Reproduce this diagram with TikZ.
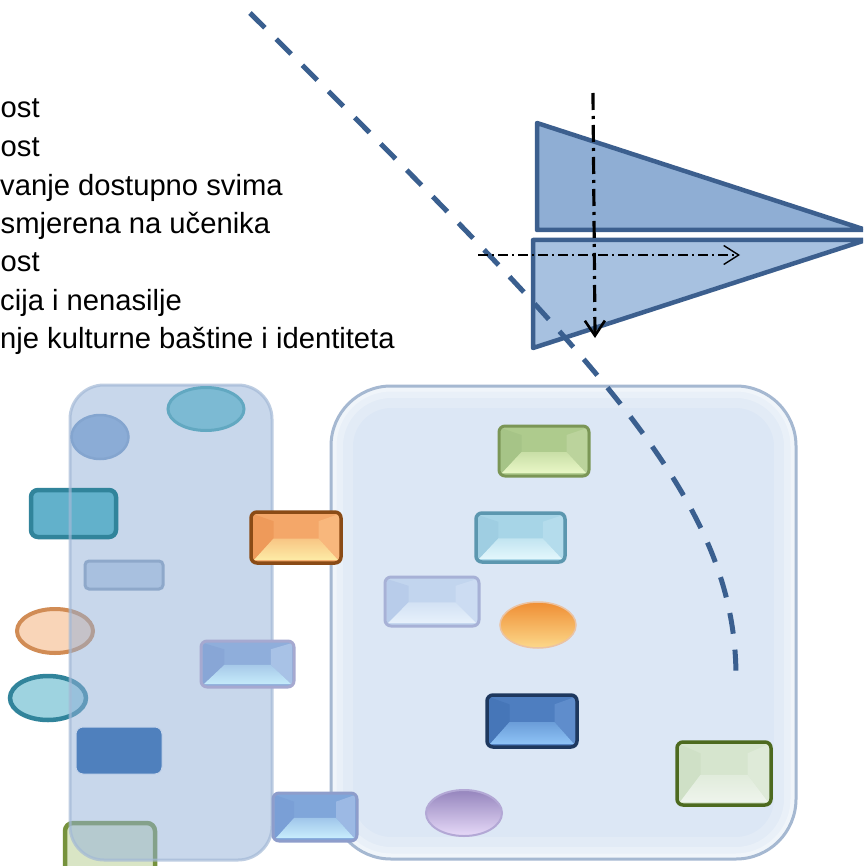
\documentclass[tikz,border=0pt]{standalone}
\usepackage{fontspec}
\setmainfont{Liberation Sans}
\usetikzlibrary{arrows.meta}
\definecolor{dashblue}{HTML}{3A5F8F}
\definecolor{triedge}{HTML}{3C5F8E}
\definecolor{triup}{HTML}{8FAED4}
\definecolor{trilow}{HTML}{A7C1E0}
\definecolor{tallfill}{HTML}{93B1D9}
\definecolor{talledge}{HTML}{A3B9D6}
\definecolor{bigfill}{HTML}{DCE7F5}
\definecolor{bigedge}{HTML}{A5B8D1}
\definecolor{tealfill}{HTML}{62B1CB}
\definecolor{tealedge}{HTML}{31849B}
\definecolor{peachfill}{HTML}{F9D5B8}
\definecolor{peachedge}{HTML}{D18C55}
\definecolor{aquafill}{HTML}{9ED3E0}
\definecolor{leaffill}{HTML}{D9E5C5}
\definecolor{leafedge}{HTML}{76923C}
\definecolor{topellfill}{HTML}{7CBAD3}
\definecolor{topelledge}{HTML}{62A8C1}
\definecolor{blueellfill}{HTML}{8BACD6}
\definecolor{blueelledge}{HTML}{84A5CF}
\definecolor{smallfill}{HTML}{A8C0DF}
\definecolor{smalledge}{HTML}{8EA8CA}
\definecolor{solidfill}{HTML}{4F80BD}
\definecolor{solidedge}{HTML}{C3D3EA}
\definecolor{orellA}{HTML}{EF8E34}
\definecolor{orellB}{HTML}{FCD88A}
\definecolor{orelledge}{HTML}{EBC3A3}
\definecolor{puellA}{HTML}{9585BD}
\definecolor{puellB}{HTML}{E6D9F8}
\definecolor{puelledge}{HTML}{B3A8D5}
% bevel colours: D border, A main, L left, R right, B light
\definecolor{orD}{HTML}{8A4B16}\definecolor{orA}{HTML}{F4A769}\definecolor{orL}{HTML}{EE9A5A}\definecolor{orR}{HTML}{F8B77C}\definecolor{orB}{HTML}{FDEBA6}
\definecolor{muD}{HTML}{A6A9D0}\definecolor{muA}{HTML}{8FAEDB}\definecolor{muL}{HTML}{88A6D6}\definecolor{muR}{HTML}{A8C2E6}\definecolor{muB}{HTML}{C5EBFA}
\definecolor{smD}{HTML}{8E9DCB}\definecolor{smA}{HTML}{80A6DA}\definecolor{smL}{HTML}{7A9FD6}\definecolor{smR}{HTML}{9CB9E4}\definecolor{smB}{HTML}{C8EDFD}
\definecolor{grD}{HTML}{7B9656}\definecolor{grA}{HTML}{AECB8D}\definecolor{grL}{HTML}{A6C487}\definecolor{grR}{HTML}{BBD39C}\definecolor{grB}{HTML}{E9F7C6}
\definecolor{lbD}{HTML}{5C97AF}\definecolor{lbA}{HTML}{A7D5E7}\definecolor{lbL}{HTML}{9FCEE2}\definecolor{lbR}{HTML}{B4DCEC}\definecolor{lbB}{HTML}{E3F7FC}
\definecolor{paD}{HTML}{A7B1D6}\definecolor{paA}{HTML}{C2D5EE}\definecolor{paL}{HTML}{B8CCEA}\definecolor{paR}{HTML}{CCDCF2}\definecolor{paB}{HTML}{E7F1FB}
\definecolor{dbD}{HTML}{1E385E}\definecolor{dbA}{HTML}{4E7EC0}\definecolor{dbL}{HTML}{4676B8}\definecolor{dbR}{HTML}{5F8DCC}\definecolor{dbB}{HTML}{8EC3F6}
\definecolor{lgD}{HTML}{4D6A1F}\definecolor{lgA}{HTML}{D6E5CE}\definecolor{lgL}{HTML}{CFE0C6}\definecolor{lgR}{HTML}{DEEAD8}\definecolor{lgB}{HTML}{EEF4EC}
\newcommand\bevelbox[6]{% x0 y0 x1 y1 prefix linewidth
  \fill[#5A,rounded corners=5pt] (#1,#2) rectangle (#3,#4);
  \fill[#5L] ({#1+2},{#2+2}) -- ({#1+0.25*(#3-#1)},{#2+0.18*(#4-#2)}) -- ({#1+0.25*(#3-#1)},{#2+0.52*(#4-#2)}) -- ({#1+2},{#4-2}) -- cycle;
  \fill[#5R] ({#3-2},{#2+2}) -- ({#3-0.25*(#3-#1)},{#2+0.18*(#4-#2)}) -- ({#3-0.25*(#3-#1)},{#2+0.52*(#4-#2)}) -- ({#3-2},{#4-2}) -- cycle;
  \shade[top color=#5A!55!#5B, bottom color=#5B] ({#1+0.25*(#3-#1)},{#2+0.52*(#4-#2)}) -- ({#3-0.25*(#3-#1)},{#2+0.52*(#4-#2)}) -- ({#3-3},{#4-3}) -- ({#1+3},{#4-3}) -- cycle;
  \draw[#5D,line width=#6,rounded corners=6pt] (#1,#2) rectangle (#3,#4);
}
\tikzset{
  listtext/.style={anchor=base west,inner sep=0pt,font=\fontsize{29.2}{34}\selectfont},
  bigdash/.style={dashblue,line width=5pt,dash pattern=on 21pt off 16pt},
  triangle/.style={triedge,line width=4.5pt,line join=round},
  vaxis/.style={black,line width=3.2pt,dash pattern=on 17pt off 6pt on 3pt off 6pt,-{Straight Barb[length=15pt,width=20pt,line width=2.6pt]}},
  haxis/.style={black,line width=1.4pt,dash pattern=on 10pt off 4pt on 2pt off 4pt,-{Straight Barb[length=15pt,width=19pt,line width=1.4pt]}},
}
\begin{document}
\begin{tikzpicture}[x=1pt,y=-1pt]
\useasboundingbox (0,0) rectangle (863,866);
\clip (0,0) rectangle (863,866);
\fill[white] (0,0) rectangle (863,866);
% list text
\node[listtext] (t1) at (0.5,118) {ost};
\node[listtext] (t2) at (0.5,157) {ost};
\node[listtext] (t3) at (0,195.5) {vanje dostupno svima};
\node[listtext] (t4) at (0.5,233.5) {smjerena na učenika};
\node[listtext] (t5) at (0.5,272) {ost};
\node[listtext] (t6) at (0,310) {cija i nenasilje};
\node[listtext] (t7) at (0,348.5) {nje kulturne baštine i identiteta};
% triangles
\filldraw[triangle,fill=triup] (537,123) -- (866,230) -- (537,230) -- cycle;
\filldraw[triangle,fill=trilow] (533,240) -- (866,240) -- (533,348) -- cycle;
% items sticking out of tall box (under it)
\filldraw[fill=peachfill,draw=peachedge,line width=4pt] (55,631) ellipse [x radius=38, y radius=22];
\filldraw[fill=aquafill,draw=tealedge,line width=4.5pt] (48,698) ellipse [x radius=38, y radius=22];
\filldraw[fill=leaffill,draw=leafedge,line width=4.5pt,rounded corners=8pt] (65,823) rectangle (155,880);
% tall box
\fill[tallfill,fill opacity=0.5,rounded corners=34pt] (70,385) rectangle (272,860);
\filldraw[fill=tealfill,draw=tealedge,line width=4.5pt,rounded corners=7pt] (31,490) rectangle (116,537);
\draw[talledge,line width=3pt,opacity=0.7,rounded corners=34pt] (70,385) rectangle (272,860);
% items inside tall box
\filldraw[fill=topellfill,draw=topelledge,line width=3pt] (206,409) ellipse [x radius=38, y radius=21.5];
\filldraw[fill=blueellfill,draw=blueelledge,line width=2.5pt] (100,437) ellipse [x radius=28.5, y radius=22];
\filldraw[fill=smallfill,draw=smalledge,line width=3pt,rounded corners=4pt] (85,561) rectangle (163,589);
\filldraw[fill=solidfill,draw=solidedge,line width=1pt,rounded corners=7pt] (76,727) rectangle (162,774);
\bevelbox{201}{641}{294}{687}{mu}{3pt}
% big right box
\fill[bigfill,rounded corners=60pt] (331,386) rectangle (796,859);
\draw[white,opacity=0.18,line width=22pt,rounded corners=49pt] (342,397) rectangle (785,848);
\draw[white,opacity=0.25,line width=12pt,rounded corners=54pt] (337,392) rectangle (790,853);
\draw[white,opacity=0.35,line width=5pt,rounded corners=57pt] (334,389) rectangle (793,856);
\draw[bigedge,line width=3pt,rounded corners=60pt] (331,386) rectangle (796,859);
% items in big box
\bevelbox{499}{426}{589}{476}{gr}{3pt}
\bevelbox{476}{513}{565}{562}{lb}{3.5pt}
\bevelbox{385}{577}{479}{626}{pa}{3pt}
\bevelbox{487}{695}{577}{747}{db}{3.5pt}
\bevelbox{677}{742}{771}{805}{lg}{3.5pt}
\shade[top color=orellA,bottom color=orellB] (538,625) ellipse [x radius=38, y radius=23];
\draw[orelledge,line width=1.5pt] (538,625) ellipse [x radius=38, y radius=23];
\shade[top color=puellA,bottom color=puellB] (464,813) ellipse [x radius=38, y radius=23];
\draw[puelledge,line width=2pt] (464,813) ellipse [x radius=38, y radius=23];
% boxes across the two panels
\bevelbox{251}{512}{341}{563}{or}{3.5pt}
\bevelbox{273}{793}{357}{841}{sm}{3pt}
% dashed curve
\coordinate (c0) at (250,13);
\coordinate (c1) at (736,677);
\draw[bigdash] (c0) .. controls (600,362) and (736,498) .. (c1);
% dash-dot axes
\coordinate (v0) at (593,93);
\coordinate (v1) at (595,338);
\draw[vaxis] (v0) -- (v1);
\coordinate (h0) at (478,255);
\coordinate (h1) at (740,255);
\draw[haxis] (h0) -- (h1);
\end{tikzpicture}
\end{document}
